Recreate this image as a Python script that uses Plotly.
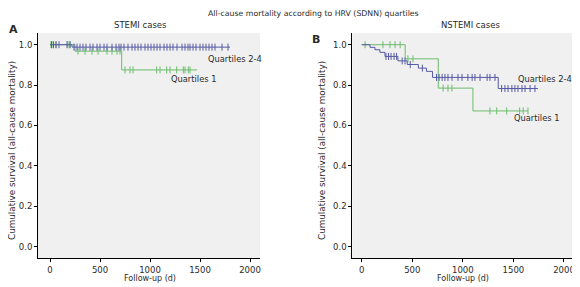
import plotly.graph_objects as go

# ---- Data ----
# STEMI (panel A)
stemi_q24_event_days = [220]
stemi_q24_surv = [0.988]
stemi_q24_end = 1800
stemi_q24_censor = [15, 35, 60, 90, 170, 200, 240, 270, 300, 330, 360, 400, 430, 470, 500, 540,
                    570, 620, 660, 690, 710, 740, 780, 820, 850, 880, 910, 950, 980, 1010, 1040,
                    1070, 1100, 1140, 1170, 1200, 1230, 1270, 1320, 1350, 1380, 1400, 1430, 1460,
                    1500, 1530, 1560, 1590, 1620, 1650, 1720, 1780]
stemi_q1_event_days = [250, 717]
stemi_q1_surv = [0.968, 0.875]
stemi_q1_end = 1470
stemi_q1_censor = [10, 30, 60, 180, 200, 280, 350, 420, 480, 570, 620, 670, 700,
                   750, 800, 830, 1067, 1100, 1167, 1200, 1267, 1333, 1350, 1383, 1400]

# NSTEMI (panel B)
nstemi_q24_event_days = [82, 131, 180, 230, 358, 450, 560, 640, 700, 1350]
nstemi_q24_surv = [0.987, 0.975, 0.962, 0.942, 0.92, 0.902, 0.884, 0.868, 0.838, 0.783]
nstemi_q24_end = 1742
nstemi_q24_censor = [240, 265, 290, 320, 345, 400, 428, 480, 600, 740, 765, 795, 823, 853, 893,
                     952, 992, 1050, 1092, 1120, 1170, 1240, 1268, 1318, 1383, 1416, 1447,
                     1485, 1515, 1545, 1585, 1615, 1665, 1713]
nstemi_q1_event_days = [430, 757, 1100]
nstemi_q1_surv = [0.93, 0.785, 0.672]
nstemi_q1_end = 1645
nstemi_q1_censor = [33, 210, 280, 330, 380, 457, 507, 805, 853, 892, 1268, 1335, 1434, 1562, 1597, 1644]

x_ticks = [0, 500, 1000, 1500, 2000]
y_ticks = [0.0, 0.2, 0.4, 0.6, 0.8, 1.0]

BLUE = "#565aa6"
GREEN = "#6cbc6c"
FONT = "DejaVu Sans"
TXT = "#2a2a2a"

# page has an 8px body margin; figure occupies the rest of the window
OFF = 8
W, H = 580 - OFF, 287 - OFF


def xp(px):
    return (px - OFF) / W


def yp(py):
    return 1 - (py - OFF) / H


def step_xy(events, surv, end):
    xs = [0] + list(events) + [end]
    ys = [1.0] + list(surv) + [surv[-1]]
    return xs, ys


def surv_at(t, events, surv):
    s = 1.0
    for e, v in zip(events, surv):
        if t >= e:
            s = v
    return s


fig = go.Figure()

series = [
    ("x", "y", stemi_q1_event_days, stemi_q1_surv, stemi_q1_end, stemi_q1_censor, GREEN),
    ("x", "y", stemi_q24_event_days, stemi_q24_surv, stemi_q24_end, stemi_q24_censor, BLUE),
    ("x2", "y2", nstemi_q1_event_days, nstemi_q1_surv, nstemi_q1_end, nstemi_q1_censor, GREEN),
    ("x2", "y2", nstemi_q24_event_days, nstemi_q24_surv, nstemi_q24_end, nstemi_q24_censor, BLUE),
]
for xa, ya, ev, sv, end, cens, col in series:
    xs, ys = step_xy(ev, sv, end)
    fig.add_trace(go.Scatter(x=xs, y=ys, mode="lines", line=dict(color=col, width=1, shape="hv"),
                             xaxis=xa, yaxis=ya, showlegend=False, hoverinfo="skip"))
    fig.add_trace(go.Scatter(x=cens, y=[surv_at(t, ev, sv) for t in cens], mode="markers",
                             marker=dict(symbol="line-ns", size=5, line=dict(color=col, width=1)),
                             xaxis=xa, yaxis=ya, showlegend=False, hoverinfo="skip"))

axis_common = dict(showline=True, linecolor="black", linewidth=1, ticks="outside", ticklen=3,
                   tickcolor="black", showgrid=False, zeroline=False,
                   tickfont=dict(family=FONT, size=8.5, color=TXT))

ydom = [yp(258.3), yp(33)]
fig.update_layout(
    width=W, height=H, margin=dict(l=0, r=0, t=0, b=0),
    paper_bgcolor="white", plot_bgcolor="#f0f0f0",
    xaxis=dict(domain=[xp(38), xp(260)], range=[-120, 2100], tickvals=x_ticks, anchor="y", **axis_common),
    yaxis=dict(domain=ydom, range=[-0.058, 1.058], tickvals=y_ticks, tickformat=".1f", anchor="x", **axis_common),
    xaxis2=dict(domain=[xp(352.3), xp(575)], range=[-93, 2109], tickvals=x_ticks, anchor="y2", **axis_common),
    yaxis2=dict(domain=ydom, range=[-0.058, 1.058], tickvals=y_ticks, tickformat=".1f", anchor="x2", **axis_common),
)

# title: pinned to the top edge so it is not clipped
fig.add_annotation(text="All-cause mortality according to HRV (SDNN) quartiles", x=xp(313), y=1,
                   xref="paper", yref="paper", showarrow=False, xanchor="center", yanchor="top",
                   borderpad=0, font=dict(family=FONT, size=7.8, color=TXT))
# panel letter A pinned to the left edge
fig.add_annotation(text="<b>A</b>", x=0, y=yp(30), xref="paper", yref="paper", showarrow=False,
                   xanchor="left", yanchor="middle", borderpad=0,
                   font=dict(family=FONT, size=11, color=TXT))

anns = [
    ("STEMI cases", 140, 25, 8.5),
    ("NSTEMI cases", 470, 25, 8.5),
    ("Follow-up (d)", 150, 278, 8),
    ("Follow-up (d)", 463, 278, 8),
    ("<b>B</b>", 316, 39, 11),
]
for text, x, y, size in anns:
    fig.add_annotation(text=text, x=xp(x), y=yp(y), xref="paper", yref="paper",
                       showarrow=False, xanchor="center", yanchor="middle", borderpad=0,
                       font=dict(family=FONT, size=size, color=TXT))

for xpos in [12, 322]:
    fig.add_annotation(text="Cumulative survival (all-cause mortality)", x=xp(xpos), y=yp(151),
                       xref="paper", yref="paper", showarrow=False, textangle=-90, borderpad=0,
                       xanchor="center", yanchor="middle", font=dict(family=FONT, size=8.8, color=TXT))

# curve labels (in data coordinates)
labels = [
    ("x", "y", 1570, 0.93, "Quartiles 2-4"),
    ("x", "y", 1200, 0.83, "Quartiles 1"),
    ("x2", "y2", 1532, 0.83, "Quartiles 2-4"),
    ("x2", "y2", 1492, 0.637, "Quartiles 1"),
]
for xr, yr, xv, yv, t in labels:
    fig.add_annotation(text=t, x=xv, y=yv, xref=xr, yref=yr, showarrow=False, borderpad=0,
                       xanchor="left", yanchor="middle", font=dict(family=FONT, size=8.3, color=TXT))

fig.write_html("out.html")
